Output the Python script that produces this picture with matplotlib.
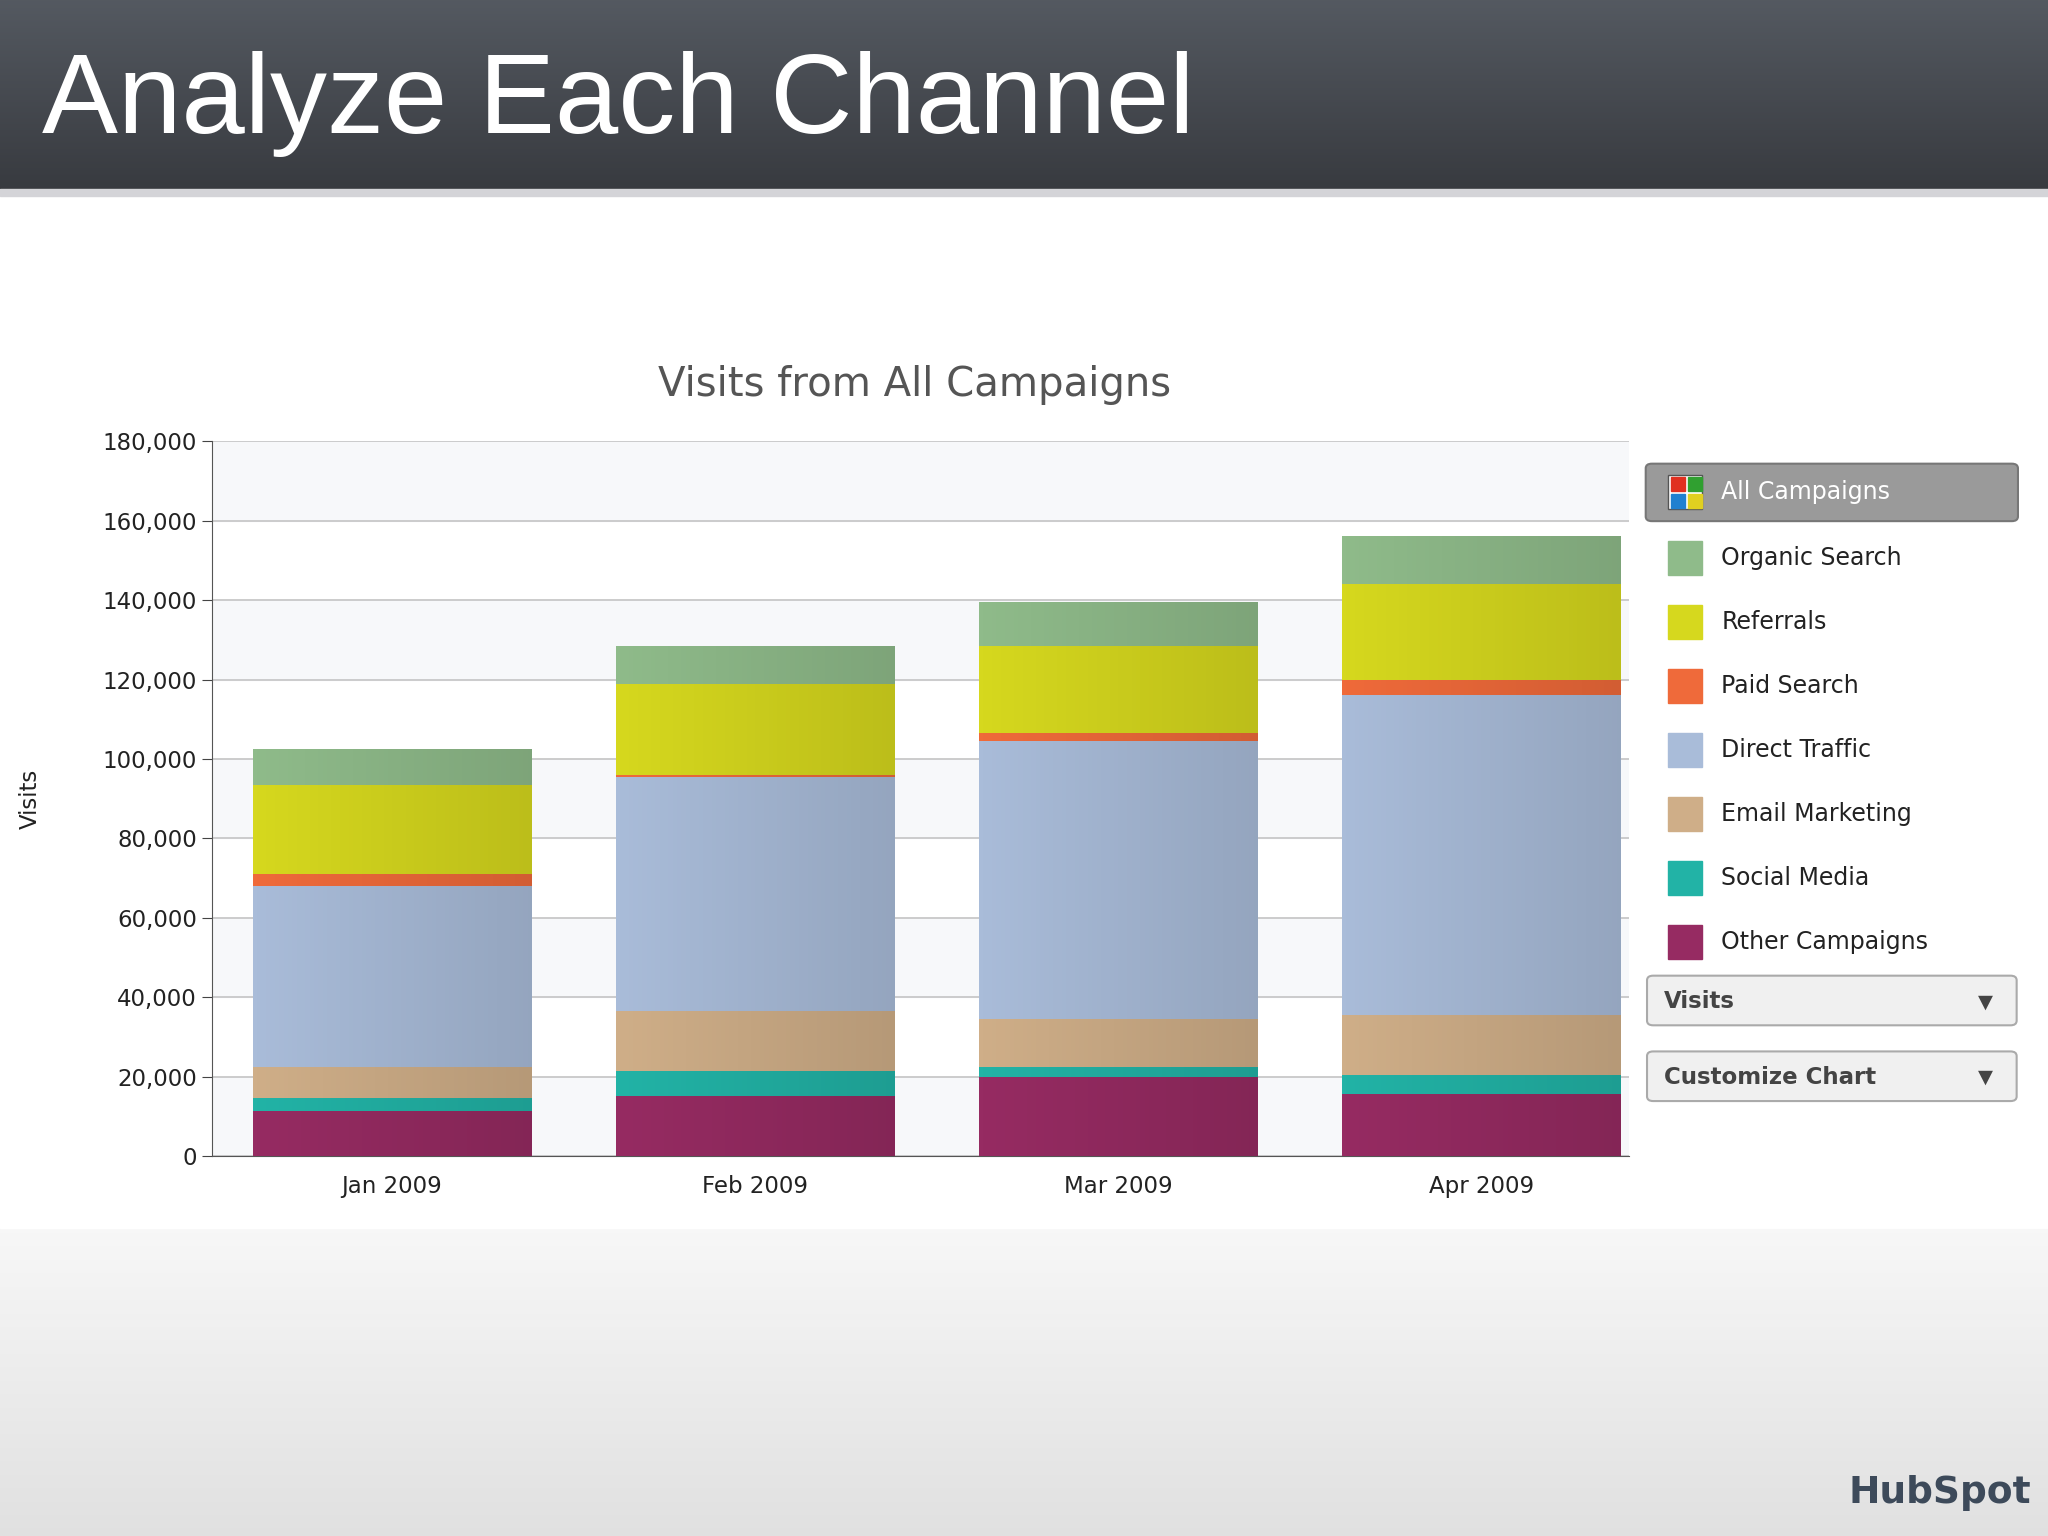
import numpy as np
import matplotlib
matplotlib.use("Agg")
import matplotlib.pyplot as plt
from matplotlib.patches import Rectangle, FancyBboxPatch

months = ["Jan 2009", "Feb 2009", "Mar 2009", "Apr 2009"]
series_names = ["Other Campaigns", "Social Media", "Email Marketing", "Direct Traffic",
                "Paid Search", "Referrals", "Organic Search"]
other = [11200, 15200, 20000, 15500]
social = [3300, 6300, 2500, 5000]
email = [8000, 15000, 12000, 15000]
direct = [45500, 59000, 70000, 80500]
paid = [3000, 500, 2000, 4000]
referrals = [22500, 23000, 22000, 24000]
organic = [9000, 9500, 11000, 12000]
colors = ["#962b62", "#22b3a6", "#cfae88", "#a9bcd9", "#ef6a3a", "#d6d81e", "#8fbb8a"]
legend_order = ["Organic Search", "Referrals", "Paid Search", "Direct Traffic",
                "Email Marketing", "Social Media", "Other Campaigns"]
yticks = [0, 20000, 40000, 60000, 80000, 100000, 120000, 140000, 160000, 180000]

W, H = 1568, 1176
fig = plt.figure(figsize=(20.48, 15.36), dpi=100)

def fx(x): return x / W
def fy(y): return 1 - y / H

bg = fig.add_axes([0, 0, 1, 1], zorder=-10)
bg.set_axis_off()
grad = np.ones((H, 1))
for i in range(H):
    if i > 940:
        t = (i - 940) / (H - 940)
        grad[i] = 0.97 - 0.09 * t
bg.imshow(np.dstack([grad, grad, grad]), aspect="auto", extent=[0, 1, 0, 1])
hd = fig.add_axes([0, fy(145), 1, 145 / H], zorder=-9)
hd.set_axis_off()
g = np.linspace(0, 1, 100)[:, None]
top = np.array([0.33, 0.35, 0.38]); bot = np.array([0.22, 0.23, 0.25])
img = top[None, None, :] * (1 - g[:, :, None]) + bot[None, None, :] * g[:, :, None]
hd.imshow(img, aspect="auto", extent=[0, 1, 0, 1])
fig.patches.append(Rectangle((0, fy(150)), 1, 5 / H, transform=fig.transFigure,
                             color="#d4d4d8", zorder=-8))
fig.patches.append(Rectangle((0, fy(940)), fx(1248), (940 - 155) / H,
                             transform=fig.transFigure, color="white", zorder=-8))
fig.text(fx(32), fy(80), "Analyze Each Channel", color="white", fontsize=82,
         family="Liberation Sans", va="center")

ax = fig.add_axes([fx(162), fy(885), fx(1247 - 162), (885 - 338) / H])
x = np.arange(len(months))
for k in range(0, 9, 2):
    ax.axhspan(yticks[k], yticks[k + 1], color="#f7f8fa", zorder=0)
ax.set_facecolor("white")
bottom = np.zeros(4)
data = [other, social, email, direct, paid, referrals, organic]
shade = np.linspace(1.0, 0.88, 64)[None, :, None]
for vals, c in zip(data, colors):
    bars = ax.bar(x, vals, 0.766, bottom=bottom, color=c, edgecolor="none", zorder=3)
    rgb = np.array(matplotlib.colors.to_rgb(c))[None, None, :]
    gimg = np.clip(rgb * shade, 0, 1)
    for b in bars:
        x0, y0 = b.get_x(), b.get_y()
        ax.imshow(gimg, extent=[x0, x0 + b.get_width(), y0, y0 + b.get_height()],
                  aspect="auto", zorder=4)
    bottom += np.array(vals)
ax.set_xlim(-0.496, 3.406)
ax.set_ylim(0, 180000)
ax.set_yticks(yticks)
ax.set_yticklabels([f"{v:,}" for v in yticks], fontsize=16.5, color="#222222")
ax.set_xticks(x)
ax.set_xticklabels(months, fontsize=16.5, color="#222222")
ax.tick_params(axis="x", length=0, pad=14)
ax.tick_params(axis="y", length=7, color="#444444")
ax.grid(axis="y", color="#c4c4c4", lw=1.2, zorder=1)
for s in ["top", "right"]:
    ax.spines[s].set_visible(False)
ax.spines["left"].set_color("#555555")
ax.spines["bottom"].set_color("#555555")
ax.set_ylabel("Visits", fontsize=16.5, color="#222222")
ax.yaxis.set_label_coords(-0.12, 0.5)
fig.text(fx(700), fy(295), "Visits from All Campaigns", fontsize=29, color="#555555",
         ha="center", va="center")

fig.patches.append(FancyBboxPatch((fx(1260), fy(399)), fx(285), 44 / H,
                   boxstyle="round,pad=0,rounding_size=0.003", transform=fig.transFigure,
                   facecolor="#9a9a9a", edgecolor="#777777", lw=1.5))
fig.patches.append(Rectangle((fx(1277), fy(390)), fx(26), 26 / H, transform=fig.transFigure,
                             facecolor="white", edgecolor="#555555"))
for (dx, dy), c in zip([(0, 0), (13, 0), (0, 13), (13, 13)],
                       ["#e03020", "#30a030", "#2080d0", "#e0d020"]):
    fig.patches.append(Rectangle((fx(1279 + dx), fy(376 + dy)), fx(11), 11 / H,
                                 transform=fig.transFigure, color=c))
fig.text(fx(1318), fy(377), "All Campaigns", fontsize=17, color="white", va="center")
cmap = dict(zip(series_names, colors))
for i, name in enumerate(legend_order):
    yc = 427 + 49 * i
    fig.patches.append(Rectangle((fx(1277), fy(yc + 13)), fx(26), 26 / H,
                                 transform=fig.transFigure, color=cmap[name]))
    fig.text(fx(1318), fy(yc), name, fontsize=17, color="#222222", va="center")
for label, yt in [("Visits", 747), ("Customize Chart", 805)]:
    fig.patches.append(FancyBboxPatch((fx(1261), fy(yt + 38)), fx(283), 38 / H,
                       boxstyle="round,pad=0,rounding_size=0.003", transform=fig.transFigure,
                       facecolor="#f0f0f0", edgecolor="#aaaaaa", lw=1.5))
    fig.text(fx(1274), fy(yt + 20), label, fontsize=16.5, color="#444444", va="center",
             fontweight="bold")
    fig.text(fx(1520), fy(yt + 20), "▼", fontsize=14, color="#444444", va="center", ha="center")

fig.text(fx(1415), fy(1143), "HubSpot", fontsize=27, color="#3d4a5a", fontweight="bold",
         va="center")
fig.savefig("out.png", dpi=100)
